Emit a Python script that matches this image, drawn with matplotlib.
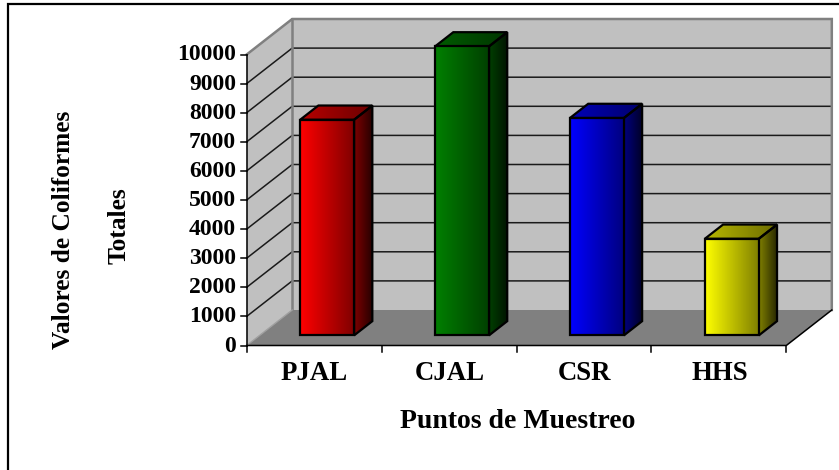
import numpy as np
import matplotlib
matplotlib.use("Agg")
import matplotlib.pyplot as plt
from matplotlib.patches import Polygon

categories = ["PJAL", "CJAL", "CSR", "HHS"]
values = [7410, 9930, 7470, 3320]
bar_colors = [(1, 0, 0), (0, 0.5, 0), (0, 0, 1), (1, 1, 0)]
y_ticks = list(range(0, 11000, 1000))

plt.rcParams["font.family"] = ["Liberation Serif", "DejaVu Serif"]
plt.rcParams["font.weight"] = "bold"

fig = plt.figure(figsize=(8.39, 4.70), dpi=100)
ax = fig.add_axes([0, 0, 1, 1])
ax.set_xlim(0, 839)
ax.set_ylim(470, 0)
ax.axis("off")

# Oblique projection of the 3D chart space onto the canvas
X0, Y0 = 246.7, 345.5
CAT_W, UNIT_H = 134.9, 0.0291
DEPTH_X, DEPTH_Y = 45.5, 35.5


def proj(c, v, d=0.0):
    return (X0 + c * CAT_W + d * DEPTH_X, Y0 - v * UNIT_H - d * DEPTH_Y)


def face(corners, **kw):
    p = Polygon([proj(*q) for q in corners], closed=True, **kw)
    ax.add_patch(p)
    return p


def shaded_face(corners, color, start, stop, z):
    pts = np.array([proj(*q) for q in corners])
    shade = np.linspace(start, stop, 128)
    img = np.outer(shade, color).reshape(1, 128, 3)
    clip = Polygon(pts, closed=True, transform=ax.transData, fc="none", ec="none")
    ax.add_patch(clip)
    im = ax.imshow(img, extent=(pts[:, 0].min(), pts[:, 0].max(),
                                pts[:, 1].max(), pts[:, 1].min()),
                   aspect="auto", zorder=z, interpolation="bilinear")
    im.set_clip_path(clip)
    ax.add_patch(Polygon(pts, closed=True, fc="none", ec="black", lw=1.6,
                         joinstyle="miter", zorder=z + 0.1))


n = len(categories)
top = y_ticks[-1]

# Walls and floor
face([(0, 0, 0), (0, 0, 1), (0, top, 1), (0, top, 0)], fc="#c0c0c0", ec="none", zorder=1)
face([(0, 0, 1), (n, 0, 1), (n, top, 1), (0, top, 1)], fc="#c0c0c0", ec="none", zorder=1)
face([(0, 0, 0), (n, 0, 0), (n, 0, 1), (0, 0, 1)], fc="#808080", ec="none", zorder=1)

# Gridlines along the side wall and the back wall
for v in y_ticks[1:-1]:
    xs, ys = zip(proj(0, v, 0), proj(0, v, 1), proj(n, v, 1))
    ax.plot(xs, ys, color="#1a1a1a", lw=1.1, zorder=2)

# Wall outlines
gray = "#808080"
xs, ys = zip(proj(0, top, 0), proj(0, top, 1), proj(n, top, 1), proj(n, 0, 1))
ax.plot(xs, ys, color=gray, lw=1.8, zorder=2.5, solid_joinstyle="miter")
xs, ys = zip(proj(0, 0, 1), proj(0, top, 1))
ax.plot(xs, ys, color=gray, lw=1.8, zorder=2.5)
xs, ys = zip(proj(0, 0, 0), proj(0, 0, 1))
ax.plot(xs, ys, color="#a0a0a0", lw=1, zorder=2.5)

# Bars
D0, D1 = 0.286, 0.686
HALF = 0.2
for i, (v, col) in enumerate(zip(values, bar_colors)):
    l, r = i + 0.5 - HALF, i + 0.5 + HALF
    z = 3 + i
    shaded_face([(r, 0, D0), (r, 0, D1), (r, v, D1), (r, v, D0)], col, 0.5, 0.14, z)
    shaded_face([(l, v, D0), (r, v, D0), (r, v, D1), (l, v, D1)], col, 0.72, 0.42, z)
    shaded_face([(l, 0, D0), (r, 0, D0), (r, v, D0), (l, v, D0)], col, 1.0, 0.5, z + 0.2)

# Front axes, ticks and labels
xs, ys = zip(proj(0, 0), proj(0, top))
ax.plot(xs, ys, color="black", lw=1.1, zorder=9)
xs, ys = zip(proj(0, 0), proj(n, 0), proj(n, 0, 1))
ax.plot(xs, ys, color="black", lw=1.1, zorder=9)

for v in y_ticks:
    x, y = proj(0, v)
    ax.plot([x - 6, x], [y, y], color="black", lw=1.1, zorder=9)
    ax.text(x - 10.5, y + 0.5, str(v), ha="right", va="center", fontsize=17,
            fontweight="bold", zorder=10)

for i in range(n + 1):
    x, y = proj(i, 0)
    ax.plot([x, x], [y, y + 6], color="black", lw=1.1, zorder=9)

for i, name in enumerate(categories):
    x, y = proj(i + 0.5, 0)
    ax.text(x + 0.5, 373, name, ha="center", va="center", fontsize=19.3,
            fontweight="bold", zorder=10)

ax.text(517.5, 421.5, "Puntos de Muestreo", ha="center", va="center", fontsize=20,
        fontweight="bold")
ax.text(64, 230, "Valores de Coliformes", rotation=90, ha="center", va="center",
        fontsize=18.3, fontweight="bold")
ax.text(119, 226, "Totales", rotation=90, ha="center", va="center",
        fontsize=18.3, fontweight="bold")

# Chart frame, open towards the lower right
ax.plot([8, 8, 839], [470, 4, 4], color="black", lw=1.6, zorder=10,
        solid_joinstyle="miter")

ax.set_xlim(0, 839)
ax.set_ylim(470, 0)
fig.savefig("out.png", dpi=100)
